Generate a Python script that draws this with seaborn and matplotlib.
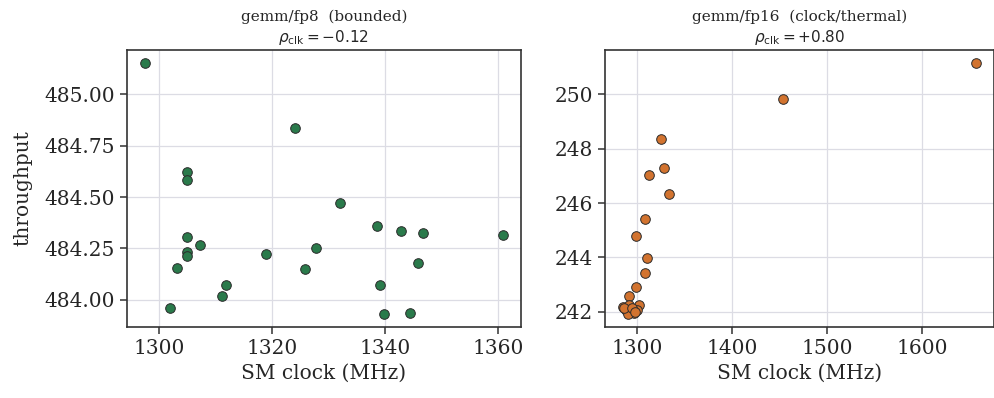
import numpy as np
import pandas as pd
import matplotlib
matplotlib.use("Agg")
import matplotlib.pyplot as plt
import matplotlib.ticker as mticker
import seaborn as sns

# ──────────────────────────────────────────────
# Data
# ──────────────────────────────────────────────
FP8_CLOCK = [1297.5, 1324.0, 1305.0, 1305.0, 1332.1, 1338.6, 1342.9, 1346.7,
             1360.9, 1305.0, 1307.2, 1305.0, 1305.0, 1327.8, 1318.9, 1303.2,
             1325.8, 1345.9, 1311.8, 1311.2, 1339.1, 1302.0, 1339.8, 1344.5]
FP8_THRU = [485.155, 484.835, 484.621, 484.583, 484.472, 484.358, 484.336, 484.324,
            484.316, 484.307, 484.268, 484.233, 484.212, 484.252, 484.222, 484.154,
            484.151, 484.180, 484.072, 484.019, 484.069, 483.959, 483.928, 483.935]

FP16_CLOCK = [1657.1, 1452.9, 1324.7, 1328.5, 1312.7, 1333.0, 1308.2, 1298.2,
              1310.6, 1307.8, 1298.6, 1290.7, 1284.5, 1291.3, 1301.6, 1288.0,
              1293.0, 1296.5, 1289.7, 1300.0, 1286.2, 1294.5, 1298.0]
FP16_THRU = [251.17, 249.82, 248.36, 247.28, 247.02, 246.32, 245.42, 244.77,
             243.96, 243.42, 242.91, 242.57, 242.18, 242.24, 242.24, 242.06,
             242.00, 241.94, 241.90, 242.06, 242.12, 242.15, 241.98]

PANELS = [
    ("gemm/fp8  (bounded)", "-0.12", FP8_CLOCK, FP8_THRU, "#2a7a4b", 20, 0.25),
    ("gemm/fp16  (clock/thermal)", "+0.80", FP16_CLOCK, FP16_THRU, "#d2732f", 100, 2),
]

sns.set_theme(style="ticks")
plt.rcParams["font.family"] = ["DejaVu Serif"]
plt.rcParams["mathtext.fontset"] = "dejavusans"
plt.rcParams["axes.edgecolor"] = "#333333"
plt.rcParams["axes.linewidth"] = 1.2

fig = plt.figure(figsize=(9.95, 3.98), dpi=100)
# axes boxes in figure fractions (left, bottom, width, height)
boxes = [(127 / 995, 1 - 327 / 398, 394 / 995, 277 / 398),
         (605 / 995, 1 - 327 / 398, 389 / 995, 277 / 398)]

for i, (name, rho, xs, ys, color, xstep, ystep) in enumerate(PANELS):
    ax = fig.add_axes(boxes[i])
    df = pd.DataFrame({"clock": xs, "thru": ys})
    sns.scatterplot(data=df, x="clock", y="thru", ax=ax, color=color,
                    edgecolor="#2b2b2b", linewidth=0.7, s=48, zorder=3)
    ax.grid(True, color="#dcdce4", linewidth=0.9, zorder=0)
    ax.set_axisbelow(True)
    ax.set_title(name + "\n" + r"$\rho_{\rm clk} = " + rho + "$",
                 fontsize=11, linespacing=1.25, pad=6)
    ax.set_xlabel("SM clock (MHz)", fontsize=14.5)
    ax.set_ylabel("throughput" if i == 0 else "", fontsize=14.5, labelpad=9)
    ax.xaxis.set_major_locator(mticker.MultipleLocator(xstep))
    ax.yaxis.set_major_locator(mticker.MultipleLocator(ystep))
    ax.tick_params(labelsize=14.5, length=5, width=1.1, color="#333333")
    if i == 0:
        ax.yaxis.set_major_formatter(mticker.FormatStrFormatter("%.2f"))

fig.savefig("out.png", dpi=100)
